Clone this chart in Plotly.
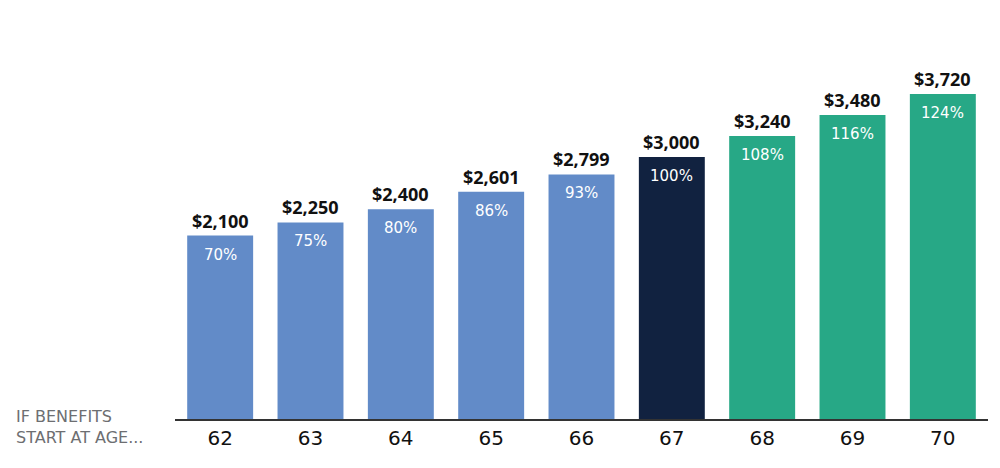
import plotly.graph_objects as go

ages = ["62", "63", "64", "65", "66", "67", "68", "69", "70"]
benefit = [2100, 2250, 2400, 2601, 2799, 3000, 3240, 3480, 3720]
benefit_labels = ["$2,100", "$2,250", "$2,400", "$2,601", "$2,799",
                  "$3,000", "$3,240", "$3,480", "$3,720"]
pct_labels = ["70%", "75%", "80%", "86%", "93%", "100%", "108%", "116%", "124%"]

BLUE = "#628BC8"
NAVY = "#112240"
GREEN = "#27A886"
bar_colors = [BLUE] * 5 + [NAVY] + [GREEN] * 3

fig = go.Figure(go.Bar(
    x=ages, y=benefit,
    marker=dict(color=bar_colors, line=dict(width=0)),
    hoverinfo="skip",
))

# numeric-looking strings get read as category indexes in annotations,
# so position by index instead
for i, (v, t) in enumerate(zip(benefit, benefit_labels)):
    fig.add_annotation(x=i, y=v, text="<b>" + t + "</b>", showarrow=False,
                       yanchor="bottom", yshift=1,
                       font=dict(family="Open Sans", size=18, color="#111111"))

for i, (v, t) in enumerate(zip(benefit, pct_labels)):
    fig.add_annotation(x=i, y=v, text=t, showarrow=False,
                       yanchor="top", yshift=-8,
                       font=dict(family="DejaVu Sans", size=15, color="white"))

fig.add_annotation(xref="paper", yref="paper", x=-0.198, y=-0.019,
                   xanchor="left", yanchor="middle", align="left",
                   text="IF BENEFITS<br>START AT AGE...", showarrow=False,
                   font=dict(family="DejaVu Sans", size=16, color="#6d6e71"))

# page body adds an 8px margin, so the figure is a bit smaller than the window
fig.update_layout(
    width=992, height=460,
    margin=dict(l=167, r=12, t=0, b=49),
    plot_bgcolor="white", paper_bgcolor="white",
    bargap=0.27,
    showlegend=False,
    xaxis=dict(type="category", range=[-0.5, 8.5], showgrid=False, showline=True,
               linecolor="#333333", linewidth=1.5,
               ticks="", tickfont=dict(family="DejaVu Sans", size=20, color="#111111"),
               fixedrange=True),
    yaxis=dict(range=[0, 4704], visible=False, fixedrange=True),
)

fig.write_html("out.html")
